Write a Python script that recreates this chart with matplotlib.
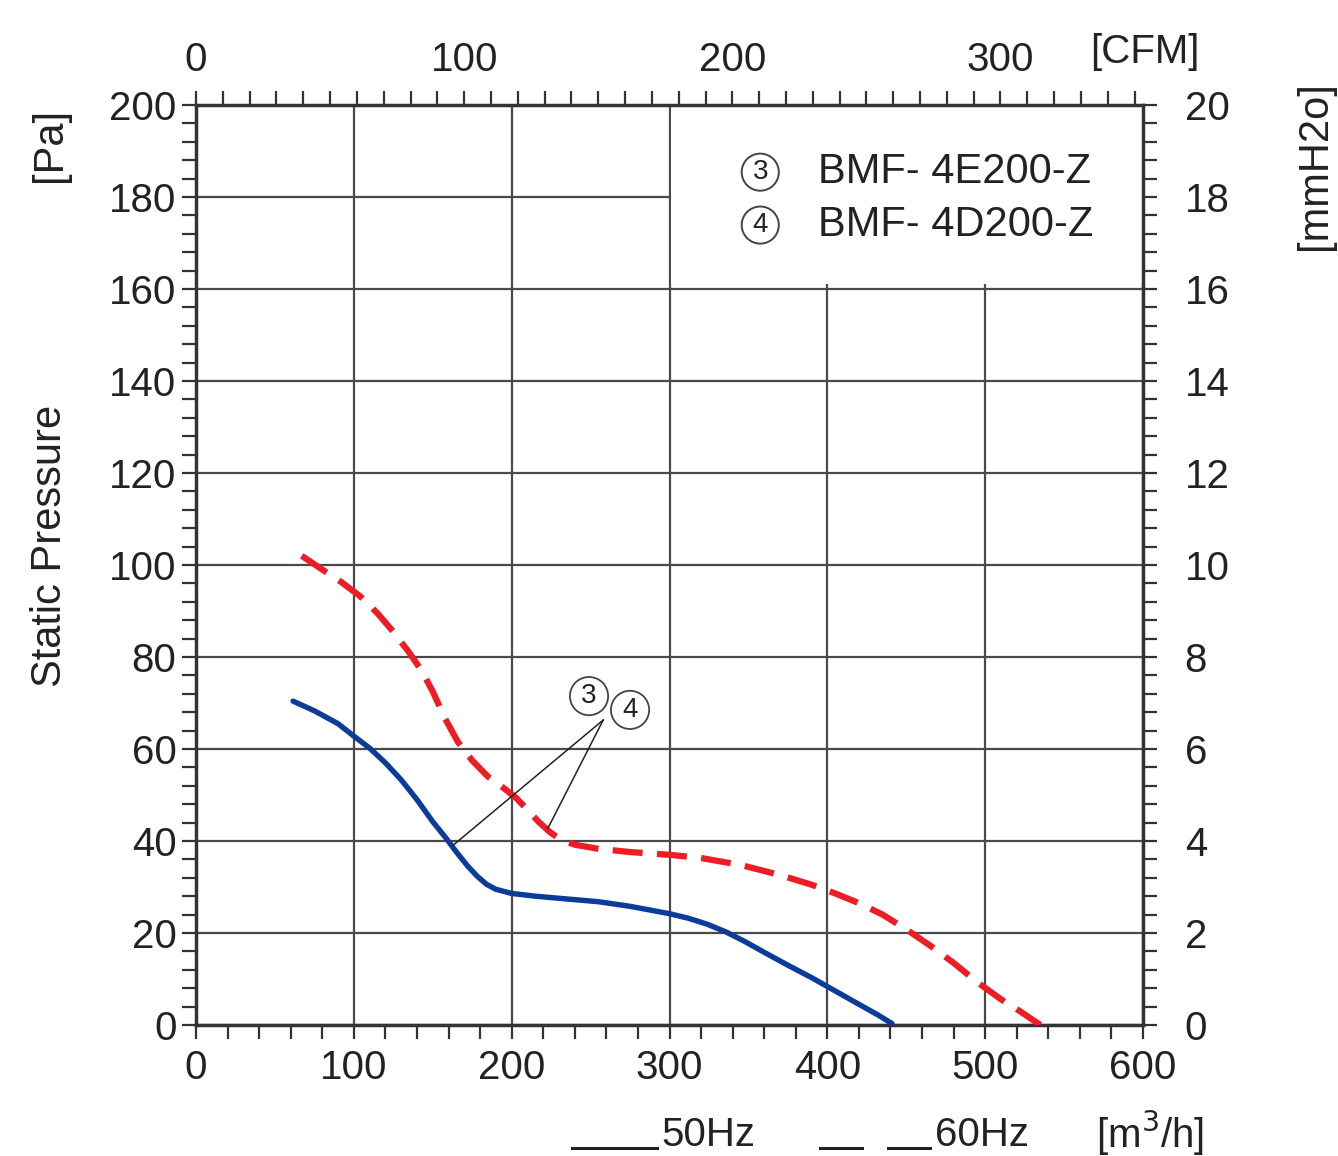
import matplotlib
matplotlib.use("Agg")
import matplotlib.pyplot as plt
from matplotlib.ticker import MultipleLocator, FixedLocator
from matplotlib.patches import Rectangle
from matplotlib.lines import Line2D

plt.rcParams['font.family'] = ['Liberation Sans', 'DejaVu Sans']

# ---- data ----
flow_50 = [61.5, 75, 90, 100, 110, 120, 130, 140, 150, 158, 165, 172, 178, 184, 190,
           200, 215, 235, 255, 275, 300, 312, 324, 336, 348, 360, 375, 390, 405, 420,
           432, 441]
pres_50 = [70.4, 68.3, 65.5, 62.8, 60.2, 57.0, 53.3, 49.0, 44.2, 40.8, 37.6, 34.6,
           32.4, 30.6, 29.5, 28.6, 28.0, 27.4, 26.8, 25.8, 24.2, 23.2, 21.9, 20.2,
           18.1, 15.8, 13.0, 10.3, 7.4, 4.5, 2.2, 0.3]
flow_60 = [67, 80, 92, 104, 115, 125, 135, 143, 150, 158, 166, 175, 185, 195, 203,
           210, 217, 224, 231, 240, 255, 275, 300, 320, 345, 370, 390, 405, 420, 435,
           450, 465, 480, 495, 510, 522, 535]
pres_60 = [102, 99, 96.3, 93.2, 89.5, 85.5, 81, 77, 72.5, 66.5, 61.5, 57.5, 54, 51.5,
           49.3, 46.8, 44.2, 42, 40.3, 39.2, 38.3, 37.6, 37, 36.3, 34.8, 32.6, 30.5,
           28.6, 26.5, 24, 20.8, 17.3, 13.5, 9.3, 5.6, 3, 0]
x_ticks = [0, 100, 200, 300, 400, 500, 600]
y_ticks = [0, 20, 40, 60, 80, 100, 120, 140, 160, 180, 200]
cfm_ticks = [0, 100, 200, 300]
mm_ticks = [0, 2, 4, 6, 8, 10, 12, 14, 16, 18, 20]
model_marks = ["3", "4"]
model_names = ["BMF- 4E200-Z", "BMF- 4D200-Z"]
ann_apex = (258, 66.3)
ann_targets = [(163, 39.1), (223, 42.8)]
ann_labels = [("3", 249, 71.5), ("4", 275, 68.5)]

W, H = 1338, 1156
fig = plt.figure(figsize=(W / 100, H / 100), dpi=100)
ax = fig.add_axes([196 / W, 1 - 1025 / H, (1143 - 196) / W, (1025 - 105) / H])

ink = '#333333'
txt = '#222222'
fs = 29

ax.set_xlim(0, 600)
ax.set_ylim(0, 200)
ax.xaxis.set_major_locator(FixedLocator(x_ticks))
ax.xaxis.set_minor_locator(MultipleLocator(20))
ax.yaxis.set_major_locator(FixedLocator(y_ticks))
ax.yaxis.set_minor_locator(MultipleLocator(4))
ax.set_axisbelow(True)
ax.grid(which='major', color='#4a4a4a', lw=1.6)
for s in ax.spines.values():
    s.set_color(ink)
    s.set_linewidth(2.5)

ax.tick_params(axis='x', which='both', direction='out', length=10, width=1.6,
               color=ink, labelsize=fs, labelcolor=txt, pad=7)
ax.tick_params(axis='y', which='both', direction='out', length=10, width=1.6,
               color=ink, labelsize=fs, labelcolor=txt, pad=4)

# blank box behind the model list
ax.add_patch(Rectangle((301, 161), 298.5, 38.6, facecolor='white',
                       edgecolor='none', zorder=1))

ax.plot(flow_50, pres_50, color='#0b3c9a', lw=3.9, solid_capstyle='round',
        solid_joinstyle='round', zorder=3)
ax.plot(flow_60, pres_60, color='#ee1c24', lw=4.5, dashes=(4.8, 2.3),
        dash_capstyle='butt', dash_joinstyle='round', zorder=3)

# annotation
for tx, ty in ann_targets:
    ax.plot([ann_apex[0], tx], [ann_apex[1], ty], color=txt, lw=1.1, zorder=4)
for lab, lx, ly in ann_labels:
    ax.text(lx, ly, lab, fontsize=20, ha='center', va='center', color=txt, zorder=5,
            bbox=dict(boxstyle='circle,pad=0.22', fc='white', ec='#444444', lw=1.3))

# model list
for i, (mk, nm) in enumerate(zip(model_marks, model_names)):
    yy = 185.4 - i * 11.5
    ax.text(357.5, yy, mk, fontsize=20, ha='center', va='center', color=txt,
            zorder=5,
            bbox=dict(boxstyle='circle,pad=0.2', fc='white', ec='#444444', lw=1.4))
    ax.text(394, yy, nm, fontsize=30, ha='left', va='center', color=txt, zorder=5)

# top CFM axis
top = ax.secondary_xaxis('top', functions=(lambda x: x / 1.699, lambda c: c * 1.699))
top.xaxis.set_major_locator(FixedLocator(cfm_ticks))
top.xaxis.set_minor_locator(MultipleLocator(10))
top.tick_params(which='both', direction='out', length=10, width=1.6, color=ink,
                labelsize=fs, labelcolor=txt, pad=9)
top.spines['top'].set_visible(False)

# right mmH2O axis
right = ax.secondary_yaxis('right', functions=(lambda p: p / 10, lambda m: m * 10))
right.yaxis.set_major_locator(FixedLocator(mm_ticks))
right.yaxis.set_minor_locator(MultipleLocator(0.4))
right.tick_params(which='both', direction='out', length=10, width=1.6, color=ink,
                  labelsize=fs, labelcolor=txt, pad=20)
right.spines['right'].set_visible(False)

# axis captions
fig.text(50 / W, 1 - 546 / H, "Static Pressure", rotation=90, fontsize=30,
         ha='center', va='center', color=txt)
fig.text(50 / W, 1 - 145 / H, "[Pa]", rotation=90, fontsize=30,
         ha='center', va='center', color=txt)
fig.text(1315 / W, 1 - 166 / H, "[mmH2o]", rotation=90, fontsize=30,
         ha='center', va='center', color=txt)
fig.text(1145 / W, 1 - 52 / H, "[CFM]", fontsize=fs, ha='center', va='center',
         color=txt)
fig.text(1150 / W, 1 - 1133 / H, "[m$^3$/h]", fontsize=fs, ha='center',
         va='center', color=txt)
fig.text(708 / W, 1 - 1135 / H, "50Hz", fontsize=fs, ha='center', va='center',
         color=txt)
fig.text(982 / W, 1 - 1135 / H, "60Hz", fontsize=fs, ha='center', va='center',
         color=txt)
yb = 1 - 1148 / H
fig.add_artist(Line2D([572 / W, 657 / W], [yb, yb], color=txt, lw=2.2))
fig.add_artist(Line2D([820 / W, 862 / W], [yb, yb], color=txt, lw=2.2))
fig.add_artist(Line2D([888 / W, 930 / W], [yb, yb], color=txt, lw=2.2))

fig.savefig("out.png", dpi=100, facecolor='white')
